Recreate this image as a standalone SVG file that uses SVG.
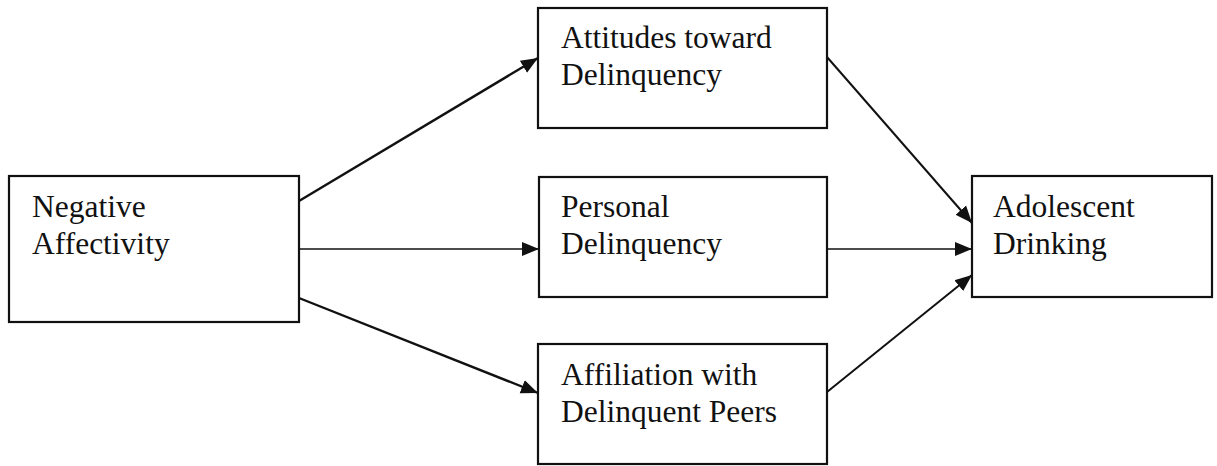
<svg xmlns="http://www.w3.org/2000/svg" width="1217" height="466" viewBox="0 0 1217 466">
<style>
.box{fill:#fff;stroke:#111;stroke-width:2.2}
.lbl{font-family:"Liberation Serif","Times New Roman",serif;font-size:31.5px;fill:#111}
.con{stroke:#111;fill:none}
</style>
<defs>
<marker id="ah" markerUnits="userSpaceOnUse" markerWidth="20" markerHeight="16" refX="17" refY="7" orient="auto" viewBox="0 0 20 14">
<path d="M0,0 L17,7 L0,14 Z" fill="#111"/>
</marker>
</defs>
<rect width="1217" height="466" fill="#fff"/>
<g id="connectors">
<line class="con" stroke-width="2.4" x1="299" y1="201" x2="538" y2="58" marker-end="url(#ah)"/>
<line class="con" stroke-width="1.6" x1="299" y1="249" x2="539" y2="249" marker-end="url(#ah)"/>
<line class="con" stroke-width="2.4" x1="299" y1="298" x2="538" y2="393" marker-end="url(#ah)"/>
<line class="con" stroke-width="2" x1="827" y1="57" x2="972" y2="223" marker-end="url(#ah)"/>
<line class="con" stroke-width="1.6" x1="827" y1="249" x2="972" y2="249" marker-end="url(#ah)"/>
<line class="con" stroke-width="2" x1="827" y1="392" x2="972" y2="275" marker-end="url(#ah)"/>
</g>
<g id="negative-affectivity">
<rect class="box" x="9" y="176" width="290" height="146"/>
<text class="lbl" x="32" y="217">Negative</text>
<text class="lbl" x="32" y="254">Affectivity</text>
</g>
<g id="attitudes">
<rect class="box" x="538" y="8" width="289" height="120"/>
<text class="lbl" x="561" y="48">Attitudes toward</text>
<text class="lbl" x="561" y="85">Delinquency</text>
</g>
<g id="personal">
<rect class="box" x="539" y="177" width="288" height="120"/>
<text class="lbl" x="561" y="217">Personal</text>
<text class="lbl" x="561" y="254">Delinquency</text>
</g>
<g id="affiliation">
<rect class="box" x="538" y="344" width="289" height="120"/>
<text class="lbl" x="561" y="385">Affiliation with</text>
<text class="lbl" x="561" y="422">Delinquent Peers</text>
</g>
<g id="adolescent-drinking">
<rect class="box" x="972" y="176" width="240" height="121"/>
<text class="lbl" x="993" y="217">Adolescent</text>
<text class="lbl" x="993" y="254">Drinking</text>
</g>
</svg>
